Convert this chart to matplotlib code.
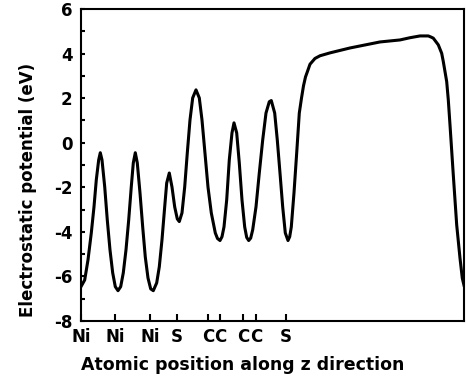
import matplotlib
matplotlib.use('Agg')
import matplotlib.pyplot as plt
from matplotlib.ticker import MultipleLocator

plt.rcParams['font.family'] = ['DejaVu Sans']
plt.rcParams['font.weight'] = 'bold'
plt.rcParams['axes.unicode_minus'] = False

# potential profile (z in arbitrary units, V in eV)
z = [0.0, 0.37, 0.70, 1.03, 1.30, 1.53, 1.77, 1.93, 2.10, 2.37, 2.63, 2.90,
     3.17, 3.43, 3.70, 3.97, 4.23, 4.50, 4.77, 5.03, 5.23, 5.43, 5.63, 5.90,
     6.17, 6.43, 6.70, 6.97, 7.23, 7.57, 7.83, 8.10, 8.37, 8.57, 8.83, 9.10,
     9.37, 9.63, 9.83, 10.10, 10.37, 10.63, 10.90, 11.17, 11.50, 11.83,
     12.10, 12.37, 12.70, 13.03, 13.43, 13.65, 13.90, 14.10, 14.30, 14.57,
     14.83, 15.10, 15.30, 15.57, 15.83, 16.10, 16.37, 16.57, 16.77, 16.97,
     17.17, 17.50, 17.83, 18.17, 18.50, 18.83, 19.03, 19.37, 19.63, 19.90,
     20.17, 20.43, 20.70, 20.87, 21.03, 21.30, 21.57, 21.83, 22.05, 22.25,
     22.45, 22.65, 22.90, 23.40, 23.90, 24.90, 26.90, 29.90, 31.90, 32.90,
     33.90, 34.30, 34.73, 35.00, 35.23, 35.73, 36.07, 36.23, 36.57, 36.73,
     36.90, 37.23, 37.57, 37.90, 38.13, 38.30]
potential = [-6.46, -6.16, -5.26, -4.05, -2.88, -1.67, -0.77, -0.45, -0.77,
             -1.97, -3.47, -4.81, -5.84, -6.46, -6.64, -6.46, -5.84, -4.81,
             -3.47, -1.97, -0.91, -0.45, -0.91, -2.25, -3.78, -5.13, -6.07,
             -6.56, -6.64, -6.29, -5.57, -4.36, -2.88, -1.81, -1.36, -1.99,
             -2.88, -3.42, -3.54, -3.15, -1.99, -0.46, 1.02, 2.01, 2.37, 2.01,
             1.02, -0.33, -1.99, -3.15, -4.05, -4.30, -4.39, -4.22, -3.78,
             -2.57, -0.77, 0.44, 0.89, 0.44, -0.91, -2.57, -3.78, -4.25,
             -4.39, -4.28, -3.91, -2.88, -1.36, 0.12, 1.33, 1.84, 1.89, 1.33,
             0.12, -1.36, -2.88, -4.05, -4.39, -4.22, -3.78, -2.25, -0.46,
             1.33, 2.00, 2.55, 2.95, 3.20, 3.52, 3.78, 3.90, 4.03, 4.25, 4.52,
             4.61, 4.71, 4.79, 4.79, 4.79, 4.74, 4.69, 4.39, 4.01, 3.64, 2.74,
             1.92, 0.80, -1.45, -3.69, -5.18, -6.08, -6.40]

# atom positions shown on the x axis
atom_pos = [0.0, 3.4, 6.9, 9.6, 12.7, 13.9, 16.2, 17.5, 20.5]
atom_labels = ['Ni', 'Ni', 'Ni', 'S', 'C', 'C', 'C', 'C', 'S']

fig = plt.figure(figsize=(4.66, 3.8), dpi=100)
ax = fig.add_axes([0.1738, 0.1553, 0.8219, 0.8211])

ax.plot(z, potential, color='black', lw=2.2)

ax.set_xlim(0, 38.3)
ax.set_ylim(-8, 6)
ax.yaxis.set_major_locator(MultipleLocator(2))
ax.yaxis.set_minor_locator(MultipleLocator(1))
ax.set_xticks(atom_pos)
ax.set_xticklabels(atom_labels)

ax.tick_params(axis='y', which='both', direction='in', length=3, width=1.5,
               pad=6, labelsize=12)
ax.tick_params(axis='x', direction='in', length=5, width=1.5, pad=5,
               labelsize=12)
ax.tick_params(top=False, right=False)
for s in ax.spines.values():
    s.set_linewidth(1.5)

ax.set_ylabel('Electrostatic potential (eV)', fontsize=12, fontweight='bold')
ax.set_xlabel('Atomic position along z direction', fontsize=12.5,
              fontweight='bold')
ax.yaxis.set_label_coords(-0.115, 0.42)
ax.xaxis.set_label_coords(0.423, -0.112)

fig.savefig('out.png', dpi=100)
